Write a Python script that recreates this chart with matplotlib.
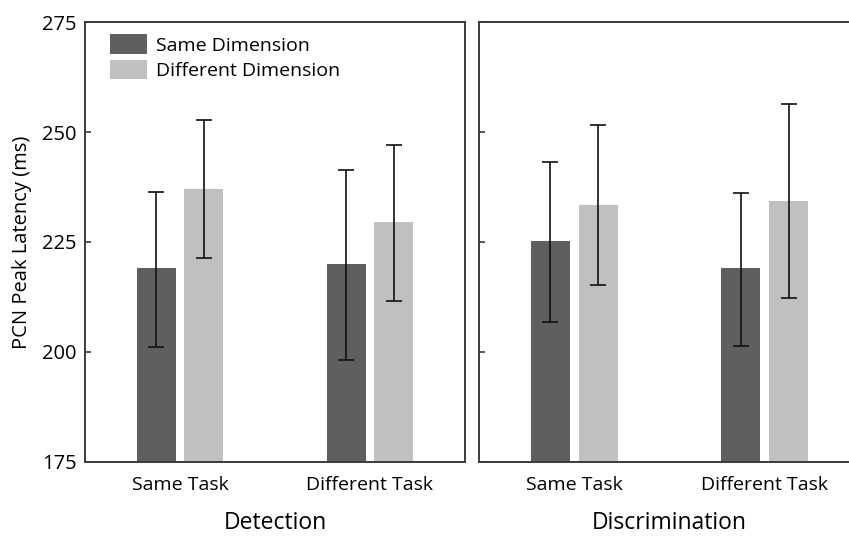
import matplotlib
matplotlib.use("Agg")
import matplotlib.pyplot as plt
import numpy as np

plt.rcParams['font.family'] = ['Open Sans', 'DejaVu Sans']

panels = ["Detection", "Discrimination"]
tasks = ["Same Task", "Different Task"]
series = ["Same Dimension", "Different Dimension"]

# means [panel][task]
same_dim = [[219.0, 219.9], [225.2, 219.0]]
diff_dim = [[237.0, 229.5], [233.5, 234.4]]
# error bar ends
same_dim_hi = [[236.4, 241.3], [243.1, 236.2]]
same_dim_lo = [[201.2, 198.2], [206.9, 201.4]]
diff_dim_hi = [[252.7, 247.1], [251.6, 256.4]]
diff_dim_lo = [[221.3, 211.6], [215.2, 212.3]]

yticks = [175, 200, 225, 250, 275]

colors = ["#5f5f5f", "#c0c0c0"]
W, H = 849, 537
fig = plt.figure(figsize=(W / 100, H / 100), dpi=100)

ax_pos = [(85, 22, 380, 440), (479, 22, 381, 440)]
x = np.arange(len(tasks))
bw = 0.205
off = 0.125
spine_c = "#3a3a3a"

for i, (px, py, pw, ph) in enumerate(ax_pos):
    ax = fig.add_axes([px / W, 1 - (py + ph) / H, pw / W, ph / H])
    means = [same_dim[i], diff_dim[i]]
    his = [same_dim_hi[i], diff_dim_hi[i]]
    los = [same_dim_lo[i], diff_dim_lo[i]]
    for s in range(2):
        m = np.array(means[s])
        hi = np.array(his[s])
        lo = np.array(los[s])
        xs = x + (2 * s - 1) * off
        ax.bar(xs, m - 175, bottom=175, width=bw, color=colors[s], label=series[s], zorder=2)
        ax.errorbar(xs, m, yerr=[m - lo, hi - m], fmt='none', ecolor='#111111',
                    elinewidth=1.2, capsize=5.5, capthick=1.2, zorder=3)
    ax.set_xlim(-0.5, 1.5)
    ax.set_ylim(175, 275)
    ax.set_yticks(yticks)
    ax.set_xticks(x)
    ax.set_xticklabels(tasks, fontsize=14)
    ax.tick_params(axis='x', length=0, pad=10)
    ax.tick_params(axis='y', direction='in', length=4, width=1.2, color=spine_c, labelsize=14.5, pad=6)
    for sp in ax.spines.values():
        sp.set_color(spine_c)
        sp.set_linewidth(1.4)
    ax.set_xlabel(panels[i], fontsize=16.5, labelpad=12)
    if i == 0:
        ax.set_ylabel("PCN Peak Latency (ms)", fontsize=14.5, labelpad=7)
        ax.legend(loc='upper left', bbox_to_anchor=(0.045, 0.99), frameon=False, fontsize=14,
                  handlelength=1.9, handleheight=1.2, handletextpad=0.46, labelspacing=0.25,
                  borderaxespad=0.2, borderpad=0.2)
    else:
        ax.set_yticklabels([])

fig.savefig("out.png", dpi=100)
